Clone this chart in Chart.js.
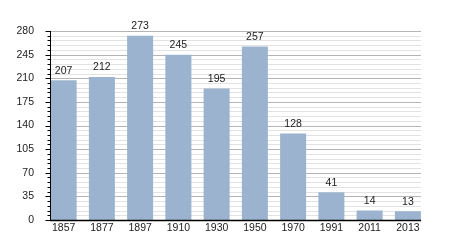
<!DOCTYPE html>
<html>
<head>
<meta charset="utf-8">
<script src="https://cdn.jsdelivr.net/npm/chart.js@4.4.1/dist/chart.umd.min.js"></script>
<style>
html,body{margin:0;padding:0;background:#fff;}
#wrap{width:450px;height:250px;position:relative;}
</style>
</head>
<body>
<div id="wrap"><canvas id="c" width="450" height="250"></canvas></div>
<script>
const years = ["1857","1877","1897","1910","1930","1950","1970","1991","2011","2013"];
const population = [207,212,273,245,195,257,128,41,14,13];
const yMin = 0, yMax = 280, majorStep = 35, minorStep = 7;

const FONT = "'Liberation Sans', Arial, sans-serif";

const axesPlugin = {
  id: 'axesPlugin',
  beforeDatasetsDraw(chart) {
    const ctx = chart.ctx;
    const y = chart.scales.y;
    const bars = chart.getDatasetMeta(0).data;
    const left = Math.round(bars[0].x - bars[0].width / 2) - 0.5;
    const right = Math.round(bars[bars.length - 1].x + bars[bars.length - 1].width / 2);
    ctx.save();
    ctx.lineWidth = 1;
    for (let v = yMin + minorStep; v < yMax + 0.001; v += minorStep) {
      if (v % majorStep === 0) continue;
      const py = Math.round(y.getPixelForValue(v)) + 0.5;
      ctx.strokeStyle = '#e2e2e2';
      ctx.beginPath(); ctx.moveTo(left, py); ctx.lineTo(right, py); ctx.stroke();
    }
    for (let v = yMin + majorStep; v <= yMax; v += majorStep) {
      const py = Math.round(y.getPixelForValue(v)) + 0.5;
      ctx.strokeStyle = '#b4b4b4';
      ctx.beginPath(); ctx.moveTo(left, py); ctx.lineTo(right, py); ctx.stroke();
    }
    ctx.restore();
  },
  afterDatasetsDraw(chart) {
    const ctx = chart.ctx;
    const y = chart.scales.y;
    const bars = chart.getDatasetMeta(0).data;
    const left = Math.round(bars[0].x - bars[0].width / 2) - 0.5;
    const right = Math.round(bars[bars.length - 1].x + bars[bars.length - 1].width / 2);
    const top = Math.round(y.getPixelForValue(yMax));
    const bottom = Math.round(y.getPixelForValue(yMin)) + 0.5;
    ctx.save();
    ctx.strokeStyle = '#000';
    ctx.lineWidth = 1;
    ctx.beginPath(); ctx.moveTo(left, top); ctx.lineTo(left, bottom + 0.5); ctx.stroke();
    for (let v = yMin; v <= yMax; v += minorStep) {
      const py = Math.round(y.getPixelForValue(v)) + 0.5;
      const len = (v % majorStep === 0) ? 5 : 3;
      ctx.beginPath(); ctx.moveTo(left - len, py); ctx.lineTo(left, py); ctx.stroke();
    }
    ctx.lineWidth = 1.5;
    ctx.beginPath(); ctx.moveTo(left - 0.5, bottom); ctx.lineTo(right, bottom); ctx.stroke();
    ctx.fillStyle = '#222';
    ctx.font = '10.5px ' + FONT;
    ctx.textAlign = 'center';
    ctx.textBaseline = 'middle';
    bars.forEach((b, i) => {
      ctx.fillText(String(population[i]), b.x, b.y - 9.5);
    });
    ctx.restore();
  }
};

new Chart(document.getElementById('c'), {
  type: 'bar',
  data: {
    labels: years,
    datasets: [{
      data: population,
      backgroundColor: '#9bb3ce',
      borderWidth: 0,
      barPercentage: 0.68,
      categoryPercentage: 1.0
    }]
  },
  options: {
    responsive: false,
    animation: false,
    devicePixelRatio: 1,
    layout: { padding: { top: 31, right: 23, left: 0, bottom: 0 } },
    plugins: { legend: { display: false }, tooltip: { enabled: false }, title: { display: false } },
    scales: {
      x: {
        type: 'category',
        offset: true,
        grid: { display: false, drawTicks: false, tickLength: 0 },
        border: { display: false },
        ticks: { color: '#222', font: { family: FONT, size: 10.5 }, padding: 2, maxRotation: 0, autoSkip: false },
        afterFit(s) { s.height = 30; }
      },
      y: {
        min: yMin, max: yMax,
        grid: { display: false, drawTicks: false, tickLength: 0 },
        border: { display: false },
        ticks: { stepSize: majorStep, color: '#222', font: { family: FONT, size: 10.5 }, padding: 10.5 },
        afterFit(s) { s.width = 44.5; }
      }
    }
  },
  plugins: [axesPlugin]
});
</script>
</body>
</html>
